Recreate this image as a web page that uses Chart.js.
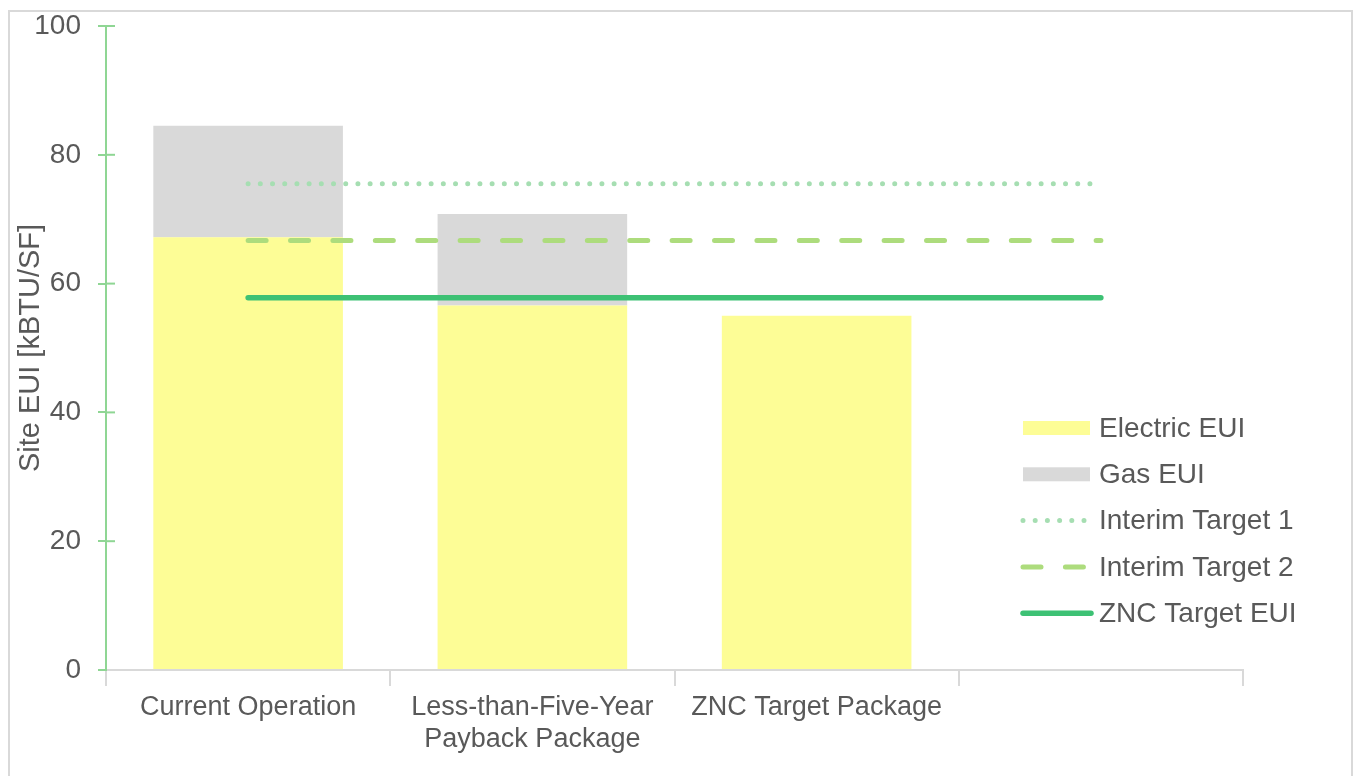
<!DOCTYPE html>
<html>
<head>
<meta charset="utf-8">
<script src="https://cdn.jsdelivr.net/npm/chart.js@4"></script>
<style>
  html, body { margin: 0; padding: 0; background: #fff; overflow: hidden; }
  #wrap { position: absolute; left: 0; top: 0; width: 1355px; height: 776px; }
  #frame { position: absolute; left: 8px; top: 10px; width: 1341px; height: 800px;
           border: 2px solid #D9D9D9; pointer-events: none; }
</style>
</head>
<body>
<div id="wrap"><canvas id="myChart" width="1355" height="776"></canvas></div>
<div id="frame"></div>
<script>
// Données du graphique
const categories = ["Current Operation", ["Less-than-Five-Year", "Payback Package"], "ZNC Target Package", ""];
const electricEUI = [67.2, 56.6, 55.0, null];
const gasEUI = [17.3, 14.2, 0, null];
const interimTarget1 = [75.5, 75.5, 75.5, 75.5];
const interimTarget2 = [66.7, 66.7, 66.7, 66.7];
const zncTarget = [57.8, 57.8, 57.8, 57.8];
const yTicks = [0, 20, 40, 60, 80, 100];

const textColor = "#595959";
const axisGreen = "#8FD694";
const fontFamily = "'Liberation Sans', Arial, sans-serif";

// petits traits de graduation à l'intérieur de l'axe Y
const innerTicks = {
  id: "innerTicks",
  afterDraw(chart) {
    const y = chart.scales.y;
    const ctx = chart.ctx;
    ctx.save();
    ctx.strokeStyle = axisGreen;
    ctx.lineWidth = 2;
    yTicks.forEach(v => {
      if (v === 0) return;
      const py = y.getPixelForValue(v);
      ctx.beginPath();
      ctx.moveTo(y.right, py);
      ctx.lineTo(y.right + 9, py);
      ctx.stroke();
    });
    ctx.restore();
  }
};

// légende dessinée dans la zone du graphique, en bas à droite
const boxLegend = {
  id: "boxLegend",
  afterDraw(chart) {
    const ctx = chart.ctx;
    const area = chart.chartArea;
    const x0 = area.right - 220;
    let yy = area.bottom - 242;
    ctx.save();
    ctx.font = "28px " + fontFamily;
    ctx.textBaseline = "middle";
    chart.data.datasets.forEach(ds => {
      if (ds.type === "line") {
        ctx.strokeStyle = ds.borderColor;
        ctx.lineWidth = ds.borderWidth;
        ctx.lineCap = "round";
        ctx.setLineDash(ds.borderDash || []);
        ctx.beginPath();
        ctx.moveTo(x0, yy);
        ctx.lineTo(x0 + 68, yy);
        ctx.stroke();
        ctx.setLineDash([]);
      } else {
        ctx.fillStyle = ds.backgroundColor;
        ctx.fillRect(x0, yy - 7, 67, 14);
      }
      ctx.fillStyle = textColor;
      ctx.fillText(ds.label, x0 + 76, yy + 1);
      yy += 46.3;
    });
    ctx.restore();
  }
};

const ctx = document.getElementById("myChart").getContext("2d");
const myChart = new Chart(ctx, {
  data: {
    labels: categories,
    datasets: [
      { type: "bar", label: "Electric EUI", data: electricEUI, backgroundColor: "#FDFD96", stack: "eui", order: 2 },
      { type: "bar", label: "Gas EUI", data: gasEUI, backgroundColor: "#D9D9D9", stack: "eui", order: 2 },
      { type: "line", label: "Interim Target 1", data: interimTarget1, borderColor: "#A6DEB2",
        borderWidth: 5, borderDash: [0, 12.2], borderCapStyle: "round", pointRadius: 0, stack: "t1", order: 1 },
      { type: "line", label: "Interim Target 2", data: interimTarget2, borderColor: "#ADDC7D",
        borderWidth: 5, borderDash: [18, 24.4], borderCapStyle: "round", pointRadius: 0, stack: "t2", order: 1 },
      { type: "line", label: "ZNC Target EUI", data: zncTarget, borderColor: "#3DC174",
        borderWidth: 5.5, borderCapStyle: "round", pointRadius: 0, stack: "t3", order: 0 }
    ]
  },
  options: {
    responsive: false,
    animation: false,
    layout: { padding: { left: 10, top: 26, right: 112, bottom: 10 } },
    datasets: { bar: { barPercentage: 0.667, categoryPercentage: 1 } },
    plugins: { legend: { display: false }, tooltip: { enabled: false } },
    scales: {
      x: {
        stacked: true,
        grid: { offset: true, drawOnChartArea: false, color: "#D9D9D9", lineWidth: 2, tickLength: 16 },
        border: { color: "#D9D9D9", width: 2 },
        ticks: { color: textColor, font: { family: fontFamily, size: 27 }, padding: 5,
                 maxRotation: 0, autoSkip: false },
        afterFit(scale) { scale.height = 96; scale.paddingLeft = 0; scale.paddingRight = 0; }
      },
      y: {
        stacked: true,
        min: 0,
        max: 100,
        grid: { drawOnChartArea: false, color: axisGreen, lineWidth: 2, tickLength: 8 },
        border: { color: axisGreen, width: 2 },
        ticks: { stepSize: 20, color: textColor, font: { family: fontFamily, size: 28 }, padding: 17 },
        title: { display: true, text: "Site EUI [kBTU/SF]", color: textColor,
                 font: { family: fontFamily, size: 29 }, padding: { top: 4, bottom: 0 } },
        afterFit(scale) { scale.width = 96; scale.paddingTop = 0; scale.paddingBottom = 0; }
      }
    }
  },
  plugins: [innerTicks, boxLegend]
});
</script>
</body>
</html>
